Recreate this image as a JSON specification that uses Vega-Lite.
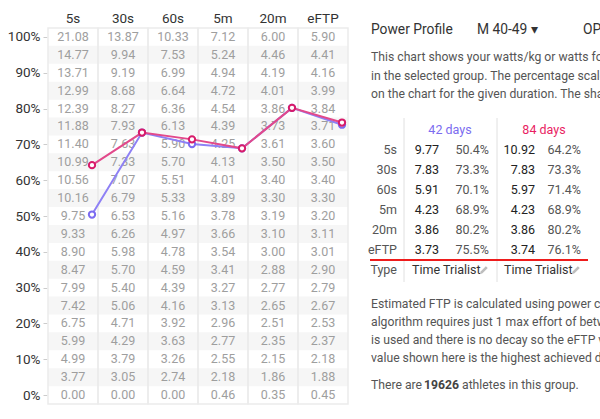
{
"$schema":"https://vega.github.io/schema/vega-lite/v6.json",
"width":600,"height":419,"autosize":{"type":"none"},"padding":0,"background":"white",
"config":{"font":"Roboto","view":{"stroke":null},"axis":{"labelFont":"Roboto"},"text":{"font":"Roboto"}},
"datasets":{
"grid":[
{"d":"5s","p":1,"w":21.08},{"d":"5s","p":0.95,"w":14.77},{"d":"5s","p":0.9,"w":13.71},{"d":"5s","p":0.85,"w":12.99},{"d":"5s","p":0.8,"w":12.39},{"d":"5s","p":0.75,"w":11.88},{"d":"5s","p":0.7,"w":11.4},{"d":"5s","p":0.65,"w":10.99},{"d":"5s","p":0.6,"w":10.56},{"d":"5s","p":0.55,"w":10.16},{"d":"5s","p":0.5,"w":9.75},{"d":"5s","p":0.45,"w":9.33},{"d":"5s","p":0.4,"w":8.9},{"d":"5s","p":0.35,"w":8.47},{"d":"5s","p":0.3,"w":7.99},{"d":"5s","p":0.25,"w":7.42},{"d":"5s","p":0.2,"w":6.75},{"d":"5s","p":0.15,"w":5.99},{"d":"5s","p":0.1,"w":4.99},{"d":"5s","p":0.05,"w":3.77},{"d":"5s","p":0,"w":0},
{"d":"30s","p":1,"w":13.87},{"d":"30s","p":0.95,"w":9.94},{"d":"30s","p":0.9,"w":9.19},{"d":"30s","p":0.85,"w":8.68},{"d":"30s","p":0.8,"w":8.27},{"d":"30s","p":0.75,"w":7.93},{"d":"30s","p":0.7,"w":7.63},{"d":"30s","p":0.65,"w":7.33},{"d":"30s","p":0.6,"w":7.07},{"d":"30s","p":0.55,"w":6.79},{"d":"30s","p":0.5,"w":6.53},{"d":"30s","p":0.45,"w":6.26},{"d":"30s","p":0.4,"w":5.98},{"d":"30s","p":0.35,"w":5.7},{"d":"30s","p":0.3,"w":5.4},{"d":"30s","p":0.25,"w":5.06},{"d":"30s","p":0.2,"w":4.71},{"d":"30s","p":0.15,"w":4.29},{"d":"30s","p":0.1,"w":3.79},{"d":"30s","p":0.05,"w":3.05},{"d":"30s","p":0,"w":0},
{"d":"60s","p":1,"w":10.33},{"d":"60s","p":0.95,"w":7.53},{"d":"60s","p":0.9,"w":6.99},{"d":"60s","p":0.85,"w":6.64},{"d":"60s","p":0.8,"w":6.36},{"d":"60s","p":0.75,"w":6.13},{"d":"60s","p":0.7,"w":5.9},{"d":"60s","p":0.65,"w":5.7},{"d":"60s","p":0.6,"w":5.51},{"d":"60s","p":0.55,"w":5.33},{"d":"60s","p":0.5,"w":5.16},{"d":"60s","p":0.45,"w":4.97},{"d":"60s","p":0.4,"w":4.78},{"d":"60s","p":0.35,"w":4.59},{"d":"60s","p":0.3,"w":4.39},{"d":"60s","p":0.25,"w":4.16},{"d":"60s","p":0.2,"w":3.92},{"d":"60s","p":0.15,"w":3.63},{"d":"60s","p":0.1,"w":3.26},{"d":"60s","p":0.05,"w":2.74},{"d":"60s","p":0,"w":0},
{"d":"5m","p":1,"w":7.12},{"d":"5m","p":0.95,"w":5.24},{"d":"5m","p":0.9,"w":4.94},{"d":"5m","p":0.85,"w":4.72},{"d":"5m","p":0.8,"w":4.54},{"d":"5m","p":0.75,"w":4.39},{"d":"5m","p":0.7,"w":4.25},{"d":"5m","p":0.65,"w":4.13},{"d":"5m","p":0.6,"w":4.01},{"d":"5m","p":0.55,"w":3.89},{"d":"5m","p":0.5,"w":3.78},{"d":"5m","p":0.45,"w":3.66},{"d":"5m","p":0.4,"w":3.54},{"d":"5m","p":0.35,"w":3.41},{"d":"5m","p":0.3,"w":3.27},{"d":"5m","p":0.25,"w":3.13},{"d":"5m","p":0.2,"w":2.96},{"d":"5m","p":0.15,"w":2.77},{"d":"5m","p":0.1,"w":2.55},{"d":"5m","p":0.05,"w":2.18},{"d":"5m","p":0,"w":0.46},
{"d":"20m","p":1,"w":6.0},{"d":"20m","p":0.95,"w":4.46},{"d":"20m","p":0.9,"w":4.19},{"d":"20m","p":0.85,"w":4.01},{"d":"20m","p":0.8,"w":3.86},{"d":"20m","p":0.75,"w":3.73},{"d":"20m","p":0.7,"w":3.61},{"d":"20m","p":0.65,"w":3.5},{"d":"20m","p":0.6,"w":3.4},{"d":"20m","p":0.55,"w":3.3},{"d":"20m","p":0.5,"w":3.19},{"d":"20m","p":0.45,"w":3.1},{"d":"20m","p":0.4,"w":3.0},{"d":"20m","p":0.35,"w":2.88},{"d":"20m","p":0.3,"w":2.77},{"d":"20m","p":0.25,"w":2.65},{"d":"20m","p":0.2,"w":2.51},{"d":"20m","p":0.15,"w":2.35},{"d":"20m","p":0.1,"w":2.15},{"d":"20m","p":0.05,"w":1.86},{"d":"20m","p":0,"w":0.35},
{"d":"eFTP","p":1,"w":5.9},{"d":"eFTP","p":0.95,"w":4.41},{"d":"eFTP","p":0.9,"w":4.16},{"d":"eFTP","p":0.85,"w":3.99},{"d":"eFTP","p":0.8,"w":3.84},{"d":"eFTP","p":0.75,"w":3.71},{"d":"eFTP","p":0.7,"w":3.6},{"d":"eFTP","p":0.65,"w":3.5},{"d":"eFTP","p":0.6,"w":3.4},{"d":"eFTP","p":0.55,"w":3.3},{"d":"eFTP","p":0.5,"w":3.2},{"d":"eFTP","p":0.45,"w":3.11},{"d":"eFTP","p":0.4,"w":3.01},{"d":"eFTP","p":0.35,"w":2.9},{"d":"eFTP","p":0.3,"w":2.79},{"d":"eFTP","p":0.25,"w":2.67},{"d":"eFTP","p":0.2,"w":2.53},{"d":"eFTP","p":0.15,"w":2.37},{"d":"eFTP","p":0.1,"w":2.18},{"d":"eFTP","p":0.05,"w":1.88},{"d":"eFTP","p":0,"w":0.45}
],
"profile":[
{"period":"42 days","d":"5s","w":9.77,"p":0.504},{"period":"42 days","d":"30s","w":7.83,"p":0.733},{"period":"42 days","d":"60s","w":5.91,"p":0.701},{"period":"42 days","d":"5m","w":4.23,"p":0.689},{"period":"42 days","d":"20m","w":3.86,"p":0.802},{"period":"42 days","d":"eFTP","w":3.73,"p":0.755},
{"period":"84 days","d":"5s","w":10.92,"p":0.642},{"period":"84 days","d":"30s","w":7.83,"p":0.733},{"period":"84 days","d":"60s","w":5.97,"p":0.714},{"period":"84 days","d":"5m","w":4.23,"p":0.689},{"period":"84 days","d":"20m","w":3.86,"p":0.802},{"period":"84 days","d":"eFTP","w":3.74,"p":0.761}
],
"types":[{"period":"42 days","type":"Time Trialist"},{"period":"84 days","type":"Time Trialist"}],
"rows":[{"r":"5s"},{"r":"30s"},{"r":"60s"},{"r":"5m"},{"r":"20m"},{"r":"eFTP"},{"r":"Type"}]
},
"layer":[
{"data":{"name":"grid"},"transform":[{"filter":{"field":"p","oneOf":[0.95,0.85,0.75,0.65,0.55,0.45,0.35,0.25,0.15,0.05]}}],
 "mark":{"type":"tick","orient":"horizontal","size":50,"thickness":18,"color":"#f6f6f6","opacity":1},
 "encoding":{"x":{"field":"d","type":"nominal","scale":{"type":"band","domain":["5s","30s","60s","5m","20m","eFTP"],"range":[48,348],"paddingInner":0,"paddingOuter":0},"axis":null},
 "y":{"field":"p","type":"quantitative","scale":{"domain":[-0.025,1.025],"range":[404,28],"nice":false,"zero":false},"axis":null}}},
{"data":{"name":"grid"},"transform":[{"filter":{"field":"p","equal":1}}],
 "mark":{"type":"rect","fillOpacity":0,"fill":"white","stroke":"#ebebeb","strokeWidth":1.5},
 "encoding":{"x":{"field":"d","type":"nominal","scale":{"type":"band","domain":["5s","30s","60s","5m","20m","eFTP"],"range":[48,348],"paddingInner":0,"paddingOuter":0},"axis":null},
 "y":{"datum":1.025,"type":"quantitative","scale":{"domain":[-0.025,1.025],"range":[404,28],"nice":false,"zero":false},"axis":null},
 "y2":{"datum":-0.025}}},
{"data":{"name":"grid"},
 "mark":{"type":"text","fontSize":12.5,"color":"#9e9e9e","baseline":"middle"},
 "encoding":{"x":{"field":"d","type":"nominal","scale":{"type":"band","domain":["5s","30s","60s","5m","20m","eFTP"],"range":[48,348],"paddingInner":0,"paddingOuter":0},
   "axis":{"orient":"top","offset":-28,"title":null,"ticks":false,"domain":false,"grid":false,"labelAngle":0,"labelFontSize":13.5,"labelColor":"#333333","labelPadding":3}},
 "y":{"field":"p","type":"quantitative","scale":{"domain":[-0.025,1.025],"range":[404,28],"nice":false,"zero":false},
   "axis":{"orient":"left","offset":-47,"title":null,"values":[0,0.1,0.2,0.3,0.4,0.5,0.6,0.7,0.8,0.9,1],"format":".0%","tickSize":4,"tickColor":"#cccccc","domain":false,"grid":false,"labelFontSize":13.5,"labelColor":"#333333","labelPadding":3}},
 "text":{"field":"w","type":"quantitative","format":".2f"}}},
{"data":{"name":"profile"},
 "mark":{"type":"line","strokeWidth":2},
 "encoding":{"x":{"field":"d","type":"nominal","bandPosition":0.88,"scale":{"type":"band","domain":["5s","30s","60s","5m","20m","eFTP"],"range":[48,348],"paddingInner":0,"paddingOuter":0},"axis":null},
 "y":{"field":"p","type":"quantitative","scale":{"domain":[-0.025,1.025],"range":[404,28],"nice":false,"zero":false},"axis":null},
 "color":{"field":"period","type":"nominal","scale":{"domain":["42 days","84 days"],"range":["#8e80f5","#e2498b"]},"legend":null}}},
{"data":{"name":"profile"},
 "mark":{"type":"point","filled":false,"fill":"white","fillOpacity":1,"strokeWidth":2,"size":40,"opacity":1},
 "encoding":{"x":{"field":"d","type":"nominal","bandPosition":0.88,"scale":{"type":"band","domain":["5s","30s","60s","5m","20m","eFTP"],"range":[48,348],"paddingInner":0,"paddingOuter":0},"axis":null},
 "y":{"field":"p","type":"quantitative","scale":{"domain":[-0.025,1.025],"range":[404,28],"nice":false,"zero":false},"axis":null},
 "color":{"field":"period","type":"nominal","scale":{"domain":["42 days","84 days"],"range":["#7c6cf0","#d81b6a"]},"legend":null}}},
{"data":{"values":[{"t":"Power Profile"},{"t":"M 40-49 ▾"},{"t":"OPTIONS"}]},
 "mark":{"type":"text","align":"left","baseline":"middle","fontSize":13.8,"color":"#333333"},
 "encoding":{"x":{"field":"t","type":"nominal","scale":{"type":"point","domain":["Power Profile","M 40-49 ▾","OPTIONS"],"range":[371,583],"padding":0},"axis":null},
 "y":{"datum":"title","type":"nominal","scale":{"type":"point","domain":["title"],"range":[30,30]},"axis":null},
 "text":{"field":"t"}}},
{"data":{"values":[{"n":1,"t":"This chart shows your watts/kg or watts for each duration compared to other athletes"},{"n":2,"t":"in the selected group. The percentage scale shows where your values are positioned"},{"n":3,"t":"on the chart for the given duration. The shape of your profile determines your type."}]},
 "mark":{"type":"text","align":"left","baseline":"middle","fontSize":12.2,"color":"#555555"},
 "encoding":{"x":{"datum":0,"type":"quantitative","scale":{"domain":[0,1],"range":[371,600]},"axis":null},
 "y":{"field":"n","type":"ordinal","scale":{"type":"point","domain":[1,2,3],"range":[57,94],"padding":0},"axis":null},
 "text":{"field":"t"}}},
{"data":{"name":"types"},
 "mark":{"type":"rule","color":"#e0e0e0","strokeWidth":1},
 "encoding":{"x":{"field":"period","type":"nominal","scale":{"type":"point","domain":["42 days","84 days"],"range":[404,497],"padding":0},"axis":null},
 "y":{"datum":0,"type":"quantitative","scale":{"domain":[0,1],"range":[118,282]},"axis":null},
 "y2":{"datum":1}}},
{"data":{"values":[{"r":"Type"}]},
 "mark":{"type":"rule","color":"#ee1c1c","strokeWidth":2},
 "encoding":{"x":{"datum":0,"type":"quantitative","scale":{"domain":[0,1],"range":[370,588]},"axis":null},
 "x2":{"datum":1},
 "y":{"field":"r","type":"nominal","bandPosition":0,"scale":{"type":"band","domain":["head","5s","30s","60s","5m","20m","eFTP","Type"],"range":[120,280],"paddingInner":0,"paddingOuter":0},"axis":null}}},
{"data":{"name":"types"},
 "mark":{"type":"text","align":"center","baseline":"middle","fontSize":12.5},
 "encoding":{"x":{"field":"period","type":"nominal","scale":{"type":"point","domain":["42 days","84 days"],"range":[450,544],"padding":0},"axis":null},
 "y":{"datum":"head","type":"nominal","scale":{"type":"band","domain":["head","5s","30s","60s","5m","20m","eFTP","Type"],"range":[120,280],"paddingInner":0,"paddingOuter":0},"axis":null},
 "color":{"field":"period","type":"nominal","scale":{"domain":["42 days","84 days"],"range":["#7b6cf0","#e91e63"]},"legend":null},
 "text":{"field":"period"}}},
{"data":{"name":"rows"},
 "mark":{"type":"text","align":"right","baseline":"middle","fontSize":12.5,"color":"#555555"},
 "encoding":{"x":{"datum":0,"type":"quantitative","scale":{"domain":[0,1],"range":[397,600]},"axis":null},
 "y":{"field":"r","type":"nominal","scale":{"type":"band","domain":["head","5s","30s","60s","5m","20m","eFTP","Type"],"range":[120,280],"paddingInner":0,"paddingOuter":0},"axis":null},
 "text":{"field":"r"}}},
{"data":{"name":"profile"},
 "mark":{"type":"text","align":"right","baseline":"middle","fontSize":12.5,"color":"#222222"},
 "encoding":{"x":{"field":"period","type":"nominal","scale":{"type":"point","domain":["42 days","84 days"],"range":[439,535],"padding":0},"axis":null},
 "y":{"field":"d","type":"nominal","scale":{"type":"band","domain":["head","5s","30s","60s","5m","20m","eFTP","Type"],"range":[120,280],"paddingInner":0,"paddingOuter":0},"axis":null},
 "text":{"field":"w","type":"quantitative","format":".2f"}}},
{"data":{"name":"profile"},
 "mark":{"type":"text","align":"right","baseline":"middle","fontSize":12.5,"color":"#555555"},
 "encoding":{"x":{"field":"period","type":"nominal","scale":{"type":"point","domain":["42 days","84 days"],"range":[489,581],"padding":0},"axis":null},
 "y":{"field":"d","type":"nominal","scale":{"type":"band","domain":["head","5s","30s","60s","5m","20m","eFTP","Type"],"range":[120,280],"paddingInner":0,"paddingOuter":0},"axis":null},
 "text":{"field":"p","type":"quantitative","format":".1%"}}},
{"data":{"name":"types"},
 "mark":{"type":"text","align":"left","baseline":"middle","fontSize":12.5,"color":"#333333"},
 "encoding":{"x":{"field":"period","type":"nominal","scale":{"type":"point","domain":["42 days","84 days"],"range":[412,504],"padding":0},"axis":null},
 "y":{"datum":"Type","type":"nominal","scale":{"type":"band","domain":["head","5s","30s","60s","5m","20m","eFTP","Type"],"range":[120,280],"paddingInner":0,"paddingOuter":0},"axis":null},
 "text":{"field":"type"}}},
{"data":{"name":"types"},
 "mark":{"type":"point","shape":"M-1,1L-0.8,0.35L0.45,-0.9L0.9,-0.45L-0.35,0.8Z","filled":true,"color":"#bdbdbd","size":70,"opacity":1},
 "encoding":{"x":{"field":"period","type":"nominal","scale":{"type":"point","domain":["42 days","84 days"],"range":[484,576],"padding":0},"axis":null},
 "y":{"datum":"Type","type":"nominal","scale":{"type":"band","domain":["head","5s","30s","60s","5m","20m","eFTP","Type"],"range":[120,280],"paddingInner":0,"paddingOuter":0},"axis":null}}},
{"data":{"values":[{"n":1,"t":"Estimated FTP is calculated using power curve data from the last 42 and 84 days. The"},{"n":2,"t":"algorithm requires just 1 max effort of between 3 and 30 minutes. The best estimate"},{"n":3,"t":"is used and there is no decay so the eFTP value does not drop over time. The eFTP"},{"n":4,"t":"value shown here is the highest achieved during the period."}]},
 "mark":{"type":"text","align":"left","baseline":"middle","fontSize":12.2,"color":"#555555"},
 "encoding":{"x":{"datum":0,"type":"quantitative","scale":{"domain":[0,1],"range":[371,600]},"axis":null},
 "y":{"field":"n","type":"ordinal","scale":{"type":"point","domain":[1,2,3,4],"range":[304,358],"padding":0},"axis":null},
 "text":{"field":"t"}}},
{"data":{"values":[{"t":"There are"}]},
 "mark":{"type":"text","align":"left","baseline":"middle","fontSize":12.2,"color":"#555555"},
 "encoding":{"x":{"datum":0,"type":"quantitative","scale":{"domain":[0,1],"range":[371,600]},"axis":null},
 "y":{"datum":"last","type":"nominal","scale":{"type":"point","domain":["last"],"range":[385,385]},"axis":null},
 "text":{"field":"t"}}},
{"data":{"values":[{"t":"19626"}]},
 "mark":{"type":"text","align":"left","baseline":"middle","fontSize":12.2,"fontWeight":"bold","color":"#444444","dx":53},
 "encoding":{"x":{"datum":0,"type":"quantitative","scale":{"domain":[0,1],"range":[371,600]},"axis":null},
 "y":{"datum":"last","type":"nominal","scale":{"type":"point","domain":["last"],"range":[385,385]},"axis":null},
 "text":{"field":"t"}}},
{"data":{"values":[{"t":"athletes in this group."}]},
 "mark":{"type":"text","align":"left","baseline":"middle","fontSize":12.2,"color":"#555555","dx":91},
 "encoding":{"x":{"datum":0,"type":"quantitative","scale":{"domain":[0,1],"range":[371,600]},"axis":null},
 "y":{"datum":"last","type":"nominal","scale":{"type":"point","domain":["last"],"range":[385,385]},"axis":null},
 "text":{"field":"t"}}}
],
"resolve":{"scale":{"x":"independent","y":"independent","color":"independent"},"axis":{"x":"independent","y":"independent"}}
}
